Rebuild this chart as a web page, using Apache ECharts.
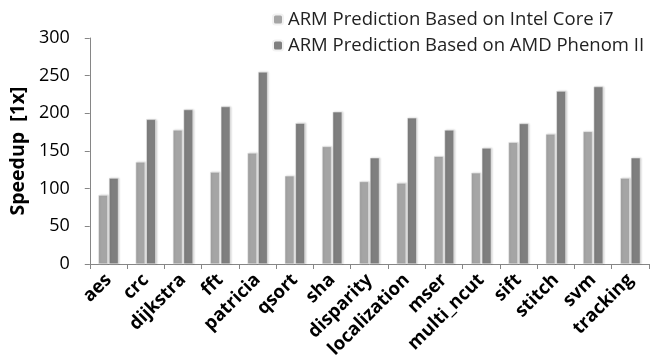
<!DOCTYPE html>
<html>
<head>
<meta charset="utf-8">
<script src="https://cdn.jsdelivr.net/npm/echarts@6/dist/echarts.min.js"></script>
<style>
  html, body { margin: 0; padding: 0; background: #fff; }
  #chart { width: 657px; height: 362px; }
</style>
</head>
<body>
<div id="chart"></div>
<script>
const categories = ['aes', 'crc', 'dijkstra', 'fft', 'patricia', 'qsort', 'sha', 'disparity',
  'localization', 'mser', 'multi_ncut', 'sift', 'stitch', 'svm', 'tracking']
const intelValues = [91.5, 135.5, 178, 122, 147.5, 117, 156, 109.5, 107.5, 143, 121, 161.5, 172.5, 176, 114]
const amdValues = [114, 192, 205, 209, 255, 187, 202, 141, 194, 178, 154, 186.5, 229.5, 235.5, 141]
const seriesNames = ['ARM Prediction Based on Intel Core i7', 'ARM Prediction Based on AMD Phenom II']

const chart = echarts.init(document.getElementById('chart'))

const barStyle = color => ({
  color: color,
  borderColor: '#f2f2f2',
  borderWidth: 0.5,
  shadowColor: 'rgba(0,0,0,0.18)',
  shadowBlur: 2,
  shadowOffsetX: 1,
  shadowOffsetY: 0,
})

chart.setOption({
  animation: false,
  textStyle: { fontFamily: 'Open Sans' },
  legend: {
    orient: 'vertical',
    left: 267,
    top: 5,
    itemWidth: 10,
    itemHeight: 10,
    itemGap: 7,
    textStyle: { fontSize: 18.5, color: '#222', fontFamily: 'Open Sans' },
    data: seriesNames,
  },
  grid: { left: 88, right: 8, top: 38, bottom: 98 },
  xAxis: {
    type: 'category',
    data: categories,
    axisLine: { lineStyle: { color: '#868686', width: 1 } },
    axisTick: { show: true, length: 5, lineStyle: { color: '#868686' } },
    axisLabel: {
      rotate: 45,
      interval: 0,
      margin: 13,
      fontSize: 18.5,
      fontWeight: 'bold',
      color: '#000',
    },
  },
  yAxis: {
    type: 'value',
    min: 0,
    max: 300,
    interval: 50,
    name: 'Speedup  [1x]',
    nameLocation: 'middle',
    nameGap: 56,
    nameTextStyle: { fontSize: 19.5, fontWeight: 'bold', color: '#000' },
    axisLine: { show: true, lineStyle: { color: '#868686', width: 1 } },
    axisTick: { show: true, length: 5, lineStyle: { color: '#868686' } },
    splitLine: { show: false },
    axisLabel: { fontSize: 18, color: '#000', margin: 20 },
  },
  series: [
    {
      name: seriesNames[0],
      type: 'bar',
      data: intelValues,
      barWidth: 9.5,
      barGap: '12%',
      itemStyle: barStyle('#a5a5a5'),
    },
    {
      name: seriesNames[1],
      type: 'bar',
      data: amdValues,
      barWidth: 9.5,
      barGap: '12%',
      itemStyle: barStyle('#7f7f7f'),
    },
  ],
})
</script>
</body>
</html>
